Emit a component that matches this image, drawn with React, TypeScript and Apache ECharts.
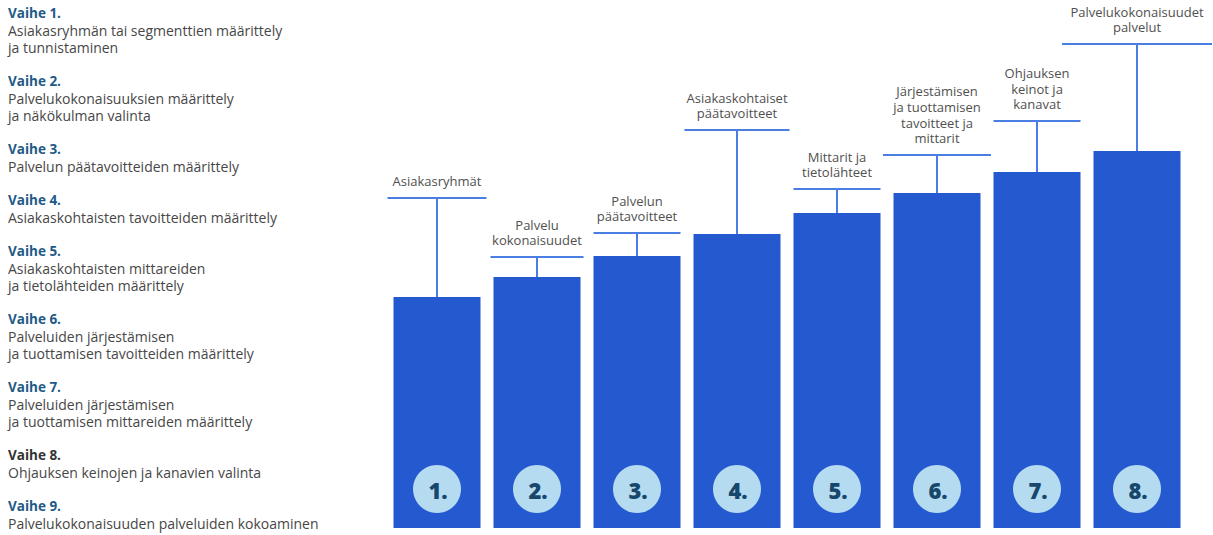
import React, { useEffect, useRef } from "react";
import * as echarts from "echarts";

// ---- data ----
const stepNumbers = ["1.", "2.", "3.", "4.", "5.", "6.", "7.", "8."];
const barValues = [231, 251, 272, 294, 315, 335, 356, 377];
const whiskerValues = [330, 271, 295, 398, 339, 373, 407, 484];
const barLabels = [
  "Asiakasryhmät",
  "Palvelu\nkokonaisuudet",
  "Palvelun\npäätavoitteet",
  "Asiakaskohtaiset\npäätavoitteet",
  "Mittarit ja\ntietolähteet",
  "Järjestämisen\nja tuottamisen\ntavoitteet ja\nmittarit",
  "Ohjauksen\nkeinot ja\nkanavat",
  "Palvelukokonaisuudet\npalvelut",
];
const phaseTitles = [
  "Vaihe 1.",
  "Vaihe 2.",
  "Vaihe 3.",
  "Vaihe 4.",
  "Vaihe 5.",
  "Vaihe 6.",
  "Vaihe 7.",
  "Vaihe 8.",
  "Vaihe 9.",
];
const phaseTexts = [
  "Asiakasryhmän tai segmenttien määrittely\nja tunnistaminen",
  "Palvelukokonaisuuksien määrittely\nja näkökulman valinta",
  "Palvelun päätavoitteiden määrittely",
  "Asiakaskohtaisten tavoitteiden määrittely",
  "Asiakaskohtaisten mittareiden\nja tietolähteiden määrittely",
  "Palveluiden järjestämisen\nja tuottamisen tavoitteiden määrittely",
  "Palveluiden järjestämisen\nja tuottamisen mittareiden määrittely",
  "Ohjauksen keinojen ja kanavien valinta",
  "Palvelukokonaisuuden palveluiden kokoaminen",
];

// ---- styles ----
const FONT = "'Open Sans', 'Noto Sans', sans-serif";
const BAR_COLOR = "#2559cf";
const WHISKER_COLOR = "#4a7ee2";
const CIRCLE_COLOR = "#b5dbf1";
const NUMBER_COLOR = "#17476b";
const LABEL_COLOR = "#505050";
const TITLE_COLOR = "#1f5a86";
const TITLE_DARK = "#333333";
const BODY_COLOR = "#474747";
const BAR_WIDTH = 87;
const WHISKER_WIDTHS = [99, 93, 87, 105, 87, 108, 87, 150];
const LABEL_FONT_SIZE = 13;
const LABEL_LINE_H = 15.6;
const LINE_H = 17;

export default function App() {
  const ref = useRef<HTMLDivElement>(null);

  useEffect(() => {
    if (!ref.current) return;
    const chart = echarts.init(ref.current, undefined, { renderer: "svg" });

    // left-side phase list
    const graphics: any[] = [];
    let y = 4.5;
    phaseTitles.forEach((t, i) => {
      const lines = phaseTexts[i].split("\n");
      graphics.push({
        type: "text",
        x: 8,
        y,
        style: {
          text: t,
          font: `bold 13.5px ${FONT}`,
          fill: i === 7 ? TITLE_DARK : TITLE_COLOR,
          lineHeight: LINE_H,
          verticalAlign: "top",
        },
      });
      graphics.push({
        type: "text",
        x: 8,
        y: y + LINE_H,
        style: {
          text: phaseTexts[i],
          font: `14px ${FONT}`,
          fill: BODY_COLOR,
          lineHeight: LINE_H,
          verticalAlign: "top",
        },
      });
      y += (lines.length + 1) * LINE_H + LINE_H;
    });

    const labelFont = `${LABEL_FONT_SIZE}px ${FONT}`;

    chart.setOption({
      animation: false,
      grid: { left: 387, right: 26, top: 28, bottom: 7 },
      xAxis: {
        type: "category",
        data: stepNumbers,
        show: false,
      },
      yAxis: { type: "value", min: 0, max: 500, show: false },
      graphic: graphics,
      series: [
        {
          type: "bar",
          data: barValues,
          barWidth: BAR_WIDTH,
          itemStyle: { color: BAR_COLOR },
          z: 2,
        },
        {
          type: "custom",
          z: 3,
          data: stepNumbers.map((s, i) => [i, barValues[i], whiskerValues[i]]),
          renderItem: (params: any, api: any) => {
            const i = api.value(0);
            const top = api.coord([i, api.value(1)]);
            const w = api.coord([i, api.value(2)]);
            const half = WHISKER_WIDTHS[i] / 2;
            return {
              type: "group",
              children: [
                {
                  type: "line",
                  shape: { x1: w[0], y1: w[1], x2: w[0], y2: top[1] },
                  style: { stroke: WHISKER_COLOR, lineWidth: 2 },
                },
                {
                  type: "line",
                  shape: { x1: w[0] - half, y1: w[1], x2: w[0] + half, y2: w[1] },
                  style: { stroke: WHISKER_COLOR, lineWidth: 2 },
                },
                {
                  type: "text",
                  x: w[0],
                  y: w[1] - 9,
                  style: {
                    text: barLabels[i],
                    font: labelFont,
                    fill: LABEL_COLOR,
                    align: "center",
                    verticalAlign: "bottom",
                    lineHeight: LABEL_LINE_H,
                  },
                },
              ],
            };
          },
        },
        {
          type: "custom",
          z: 4,
          data: stepNumbers.map((s, i) => [i, 0]),
          renderItem: (params: any, api: any) => {
            const i = api.value(0);
            const base = api.coord([i, 0]);
            const cy = base[1] - 39;
            return {
              type: "group",
              children: [
                {
                  type: "circle",
                  shape: { cx: base[0], cy, r: 24 },
                  style: { fill: CIRCLE_COLOR },
                },
                {
                  type: "text",
                  x: base[0] + 1,
                  y: cy + 1,
                  style: {
                    text: stepNumbers[i],
                    font: `800 22px ${FONT}`,
                    fill: NUMBER_COLOR,
                    align: "center",
                    verticalAlign: "middle",
                  },
                },
              ],
            };
          },
        },
      ],
    });

    return () => chart.dispose();
  }, []);

  return (
    <div
      ref={ref}
      style={{ position: "fixed", left: 0, top: 0, width: 1213, height: 535, background: "#fff" }}
    />
  );
}
